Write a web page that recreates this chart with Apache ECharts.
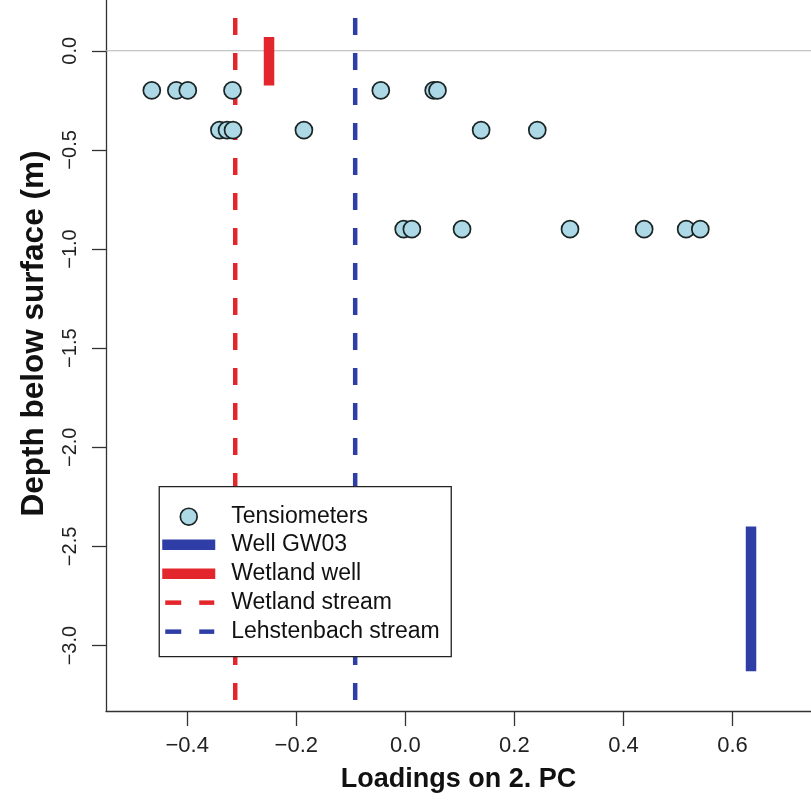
<!DOCTYPE html>
<html>
<head>
<meta charset="utf-8">
<script src="https://cdn.jsdelivr.net/npm/echarts@6/dist/echarts.min.js"></script>
<style>html,body{margin:0;padding:0;background:#fff;}#chart{width:811px;height:804px;}</style>
</head>
<body>
<div id="chart"></div>
<script>
// ---- data ----
const tensioLoading = [-0.465, -0.420, -0.399, -0.317, -0.045, 0.052, 0.059,
                       -0.341, -0.327, -0.316, -0.186, 0.139, 0.242,
                       -0.003, 0.012, 0.104, 0.302, 0.438, 0.515, 0.541];
const tensioDepth = [-0.2, -0.2, -0.2, -0.2, -0.2, -0.2, -0.2,
                     -0.4, -0.4, -0.4, -0.4, -0.4, -0.4,
                     -0.9, -0.9, -0.9, -0.9, -0.9, -0.9, -0.9];
const wellGW03Loading = 0.634;
const wellGW03Depth = [-2.40, -3.13];
const wetlandWellLoading = -0.250;
const wetlandWellDepth = [0.07, -0.175];
const wetlandStreamLoading = -0.312;
const lehstenbachStreamLoading = -0.092;
const xTicks = [-0.4, -0.2, 0.0, 0.2, 0.4, 0.6];
const yTicks = [0.0, -0.5, -1.0, -1.5, -2.0, -2.5, -3.0];
const legendNames = ['Tensiometers', 'Well GW03', 'Wetland well', 'Wetland stream', 'Lehstenbach stream'];

const X_MIN = -0.549, X_MAX = 0.744, Y_MIN = -3.33, Y_MAX = 0.256;
const FONT = '"Liberation Sans", Arial, Helvetica, sans-serif';
const RED = '#e3262b', BLUE = '#2f3ea6';
const PT_FILL = '#add8e6', PT_BORDER = '#1a2424';
const fmt = v => (v < 0 ? '\u2212' : '') + Math.abs(v).toFixed(1);

// ---- legend (drawn as graphic) ----
const LG = {x: 157, y: 486, w: 292, h: 170, rowY: [30, 58, 87, 116, 145], iconX0: 3, iconX1: 56, textX: 72};
const legendStyles = [
  {kind: 'circle'},
  {kind: 'line', color: BLUE, width: 10.5},
  {kind: 'line', color: RED, width: 10.5},
  {kind: 'dash', color: RED, width: 4.5},
  {kind: 'dash', color: BLUE, width: 4.5}
];
const ZL = 100;
const legendChildren = [{
  type: 'rect', z: ZL, shape: {x: 0, y: 0, width: LG.w, height: LG.h},
  style: {fill: '#fff', stroke: '#222', lineWidth: 1.3}
}];
legendNames.forEach((name, i) => {
  const cy = LG.rowY[i], st = legendStyles[i];
  if (st.kind === 'circle') {
    legendChildren.push({type: 'circle', z: ZL + 1, shape: {cx: (LG.iconX0 + LG.iconX1) / 2, cy: cy, r: 8.4},
      style: {fill: PT_FILL, stroke: PT_BORDER, lineWidth: 1.7}});
  } else if (st.kind === 'line') {
    legendChildren.push({type: 'line', z: ZL + 1, shape: {x1: LG.iconX0, y1: cy, x2: LG.iconX1, y2: cy},
      style: {stroke: st.color, lineWidth: st.width, lineCap: 'butt'}});
  } else {
    [[LG.iconX0 + 3, LG.iconX0 + 19], [LG.iconX1 - 16, LG.iconX1 - 1]].forEach(seg => {
      legendChildren.push({type: 'line', z: ZL + 1, shape: {x1: seg[0], y1: cy, x2: seg[1], y2: cy},
        style: {stroke: st.color, lineWidth: st.width, lineCap: 'butt'}});
    });
  }
  legendChildren.push({type: 'text', z: ZL + 1, x: LG.textX, y: cy,
    style: {text: name, fontFamily: FONT, fontSize: 23, fill: '#111', verticalAlign: 'middle', textAlign: 'left'}});
});

const chart = echarts.init(document.getElementById('chart'), null, {renderer: 'canvas'});
chart.setOption({
  backgroundColor: '#ffffff',
  animation: false,
  grid: {left: 106, right: 0, top: 0, bottom: 93, containLabel: false, show: false},
  xAxis: {
    type: 'value', min: X_MIN, max: X_MAX,
    name: 'Loadings on 2. PC', nameLocation: 'middle', nameGap: 55,
    nameTextStyle: {fontFamily: FONT, fontWeight: 'bold', fontSize: 27, color: '#111'},
    axisLine: {show: true, onZero: false, lineStyle: {color: '#333', width: 1.3}},
    axisTick: {show: true, customValues: xTicks, length: 15, lineStyle: {color: '#333', width: 1.3}},
    axisLabel: {customValues: xTicks, formatter: fmt, margin: 24, fontFamily: FONT, fontSize: 22, color: '#222'},
    splitLine: {show: false}
  },
  yAxis: {
    type: 'value', min: Y_MIN, max: Y_MAX,
    name: 'Depth below surface (m)', nameLocation: 'middle', nameGap: 56, nameRotate: 90,
    nameTextStyle: {fontFamily: FONT, fontWeight: 'bold', fontSize: 31.5, color: '#111', padding: [0, 0, 0, 44]},
    axisLine: {show: true, onZero: false, lineStyle: {color: '#333', width: 1.3}},
    axisTick: {show: true, customValues: yTicks, length: 14, lineStyle: {color: '#333', width: 1.3}},
    axisLabel: {customValues: yTicks, formatter: fmt, rotate: 90, margin: 26, fontFamily: FONT, fontSize: 20, color: '#222'},
    splitLine: {show: false}
  },
  graphic: [{type: 'group', left: LG.x, top: LG.y, z: ZL, children: legendChildren}],
  series: [
    {
      name: 'zeroLine', type: 'line', silent: true, symbol: 'none', z: 1,
      data: [[X_MIN, 0], [X_MAX, 0]],
      lineStyle: {color: '#b5b5b5', width: 1.2}
    },
    {
      name: 'Wetland stream', type: 'line', symbol: 'none', z: 2,
      data: [[wetlandStreamLoading, Y_MAX], [wetlandStreamLoading, Y_MIN]],
      lineStyle: {color: RED, width: 4.5, type: [17, 18], dashOffset: 17, cap: 'butt'}
    },
    {
      name: 'Lehstenbach stream', type: 'line', symbol: 'none', z: 2,
      data: [[lehstenbachStreamLoading, Y_MAX], [lehstenbachStreamLoading, Y_MIN]],
      lineStyle: {color: BLUE, width: 4.5, type: [17, 18], dashOffset: 17, cap: 'butt'}
    },
    {
      name: 'Well GW03', type: 'line', symbol: 'none', z: 3,
      data: [[wellGW03Loading, wellGW03Depth[0]], [wellGW03Loading, wellGW03Depth[1]]],
      lineStyle: {color: BLUE, width: 10.5, cap: 'butt'}
    },
    {
      name: 'Wetland well', type: 'line', symbol: 'none', z: 3,
      data: [[wetlandWellLoading, wetlandWellDepth[0]], [wetlandWellLoading, wetlandWellDepth[1]]],
      lineStyle: {color: RED, width: 10.5, cap: 'butt'}
    },
    {
      name: 'Tensiometers', type: 'scatter', symbol: 'circle', symbolSize: 17, z: 5,
      data: tensioLoading.map((x, i) => [x, tensioDepth[i]]),
      itemStyle: {color: PT_FILL, borderColor: PT_BORDER, borderWidth: 1.7, opacity: 1}
    }
  ]
});
</script>
</body>
</html>
